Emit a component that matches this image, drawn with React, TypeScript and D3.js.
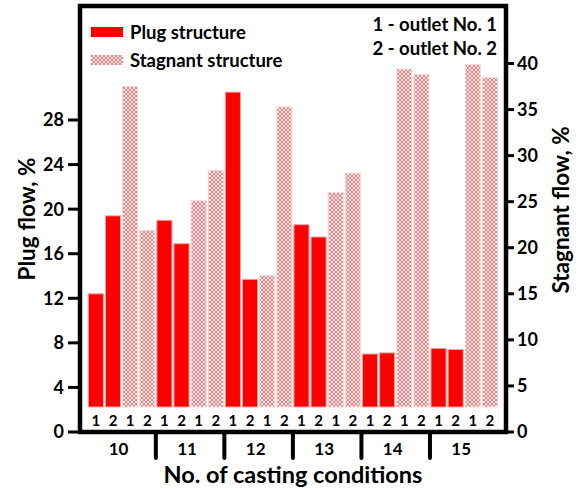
import React from "react";
import * as d3 from "d3";

const groups = ["10", "11", "12", "13", "14", "15"];
const subLabels = ["1", "2", "1", "2"];
const plugOutlet1 = [12.4, 19.0, 30.5, 18.6, 7.0, 7.5];
const plugOutlet2 = [19.4, 16.9, 13.7, 17.5, 7.1, 7.4];
const stagOutlet1 = [37.5, 25.1, 17.0, 26.0, 39.4, 39.9];
const stagOutlet2 = [21.9, 28.4, 35.3, 28.1, 38.8, 38.5];
const leftTicks = [0, 4, 8, 12, 16, 20, 24, 28];
const rightTicks = [0, 5, 10, 15, 20, 25, 30, 35, 40];

const W = 581;
const H = 489;
const FONT = "Lato, 'Open Sans', sans-serif";

export default function App() {
  const left = 80, right = 506, top = 6, bottom = 432;
  const xG = d3.scaleBand<string>().domain(groups).range([87.3, 498.5]).padding(0);
  const xS = d3.scaleBand<number>().domain([0, 1, 2, 3]).range([0, xG.bandwidth()]).paddingInner(0.12).paddingOuter(0.06);
  const yL = d3.scaleLinear().domain([0, 28]).range([bottom, 120]);
  const yR = d3.scaleLinear().domain([0, 40]).range([bottom, 63.5]);
  const barBase = bottom - 25;

  const bars: { x: number; y: number; w: number; h: number; kind: string }[] = [];
  groups.forEach((g, i) => {
    const vals = [
      { v: plugOutlet1[i], s: yL, kind: "plug" },
      { v: plugOutlet2[i], s: yL, kind: "plug" },
      { v: stagOutlet1[i], s: yR, kind: "stag" },
      { v: stagOutlet2[i], s: yR, kind: "stag" },
    ];
    vals.forEach((d, j) => {
      const x = (xG(g) as number) + (xS(j) as number);
      const y = d.s(d.v);
      bars.push({ x, y, w: xS.bandwidth(), h: barBase - y, kind: d.kind });
    });
  });

  return (
    <svg width={W} height={H} style={{ display: "block", position: "absolute", left: 0, top: 0 }} fontFamily={FONT} fontWeight={700}>
      <defs>
        <pattern id="hatch" patternUnits="userSpaceOnUse" width="4" height="4">
          <rect width="4" height="4" fill="#fff0f0" />
          <path d="M0,0 L4,4 M4,0 L0,4" stroke="#ff5a5a" strokeWidth="0.8" />
        </pattern>
      </defs>
      <rect width={W} height={H} fill="#fff" />
      {bars.map((b, i) => (
        <rect key={i} x={b.x} y={b.y} width={b.w} height={b.h}
          fill={b.kind === "plug" ? "#ff0000" : "url(#hatch)"}
          stroke={b.kind === "plug" ? "#f5a0a0" : "#f0dada"} strokeWidth={1} />
      ))}
      {groups.map((g) =>
        subLabels.map((s, j) => (
          <text key={g + j} x={(xG(g) as number) + (xS(j) as number) + xS.bandwidth() / 2} y={426}
            textAnchor="middle" fontSize={15} fill="#000">{s}</text>
        ))
      )}
      <rect x={left} y={top} width={right - left} height={bottom - top} fill="none" stroke="#000" strokeWidth={4.5} />
      {leftTicks.map((t) => (
        <g key={"l" + t}>
          <line x1={68} x2={left} y1={yL(t)} y2={yL(t)} stroke="#000" strokeWidth={3} />
          <text x={64} y={yL(t)} dy="0.36em" textAnchor="end" fontSize={18}>{t}</text>
        </g>
      ))}
      {rightTicks.map((t) => (
        <g key={"r" + t}>
          <line x1={right} x2={514} y1={yR(t)} y2={yR(t)} stroke="#000" strokeWidth={3} />
          <text x={517} y={yR(t)} dy="0.36em" textAnchor="start" fontSize={18}>{t}</text>
        </g>
      ))}
      {groups.slice(1).map((g) => (
        <line key={"s" + g} x1={xG(g) as number} x2={xG(g) as number} y1={bottom} y2={458} stroke="#000" strokeWidth={4} strokeLinecap="round" />
      ))}
      {groups.map((g) => (
        <text key={"g" + g} x={(xG(g) as number) + xG.bandwidth() / 2 - 3} y={449} dy="0.36em" textAnchor="middle" fontSize={17}>{g}</text>
      ))}
      <text x={293} y={475} dy="0.36em" textAnchor="middle" fontSize={23.5}>No. of casting conditions</text>
      <text transform="translate(27,219) rotate(-90)" dy="0.36em" textAnchor="middle" fontSize={22.5}>Plug flow, %</text>
      <text transform="translate(561,210) rotate(-90)" dy="0.36em" textAnchor="middle" fontSize={22.5}>Stagnant flow, %</text>
      <rect x={91} y={27} width={32} height={10} fill="#ff0000" />
      <text x={130} y={32} dy="0.36em" fontSize={18.5}>Plug structure</text>
      <rect x={91} y={55} width={32} height={10} fill="url(#hatch)" />
      <text x={130} y={60} dy="0.36em" fontSize={18.5}>Stagnant structure</text>
      <text x={497} y={24} dy="0.36em" textAnchor="end" fontSize={18.5}>1 - outlet No. 1</text>
      <text x={497} y={48} dy="0.36em" textAnchor="end" fontSize={18.5}>2 - outlet No. 2</text>
    </svg>
  );
}
